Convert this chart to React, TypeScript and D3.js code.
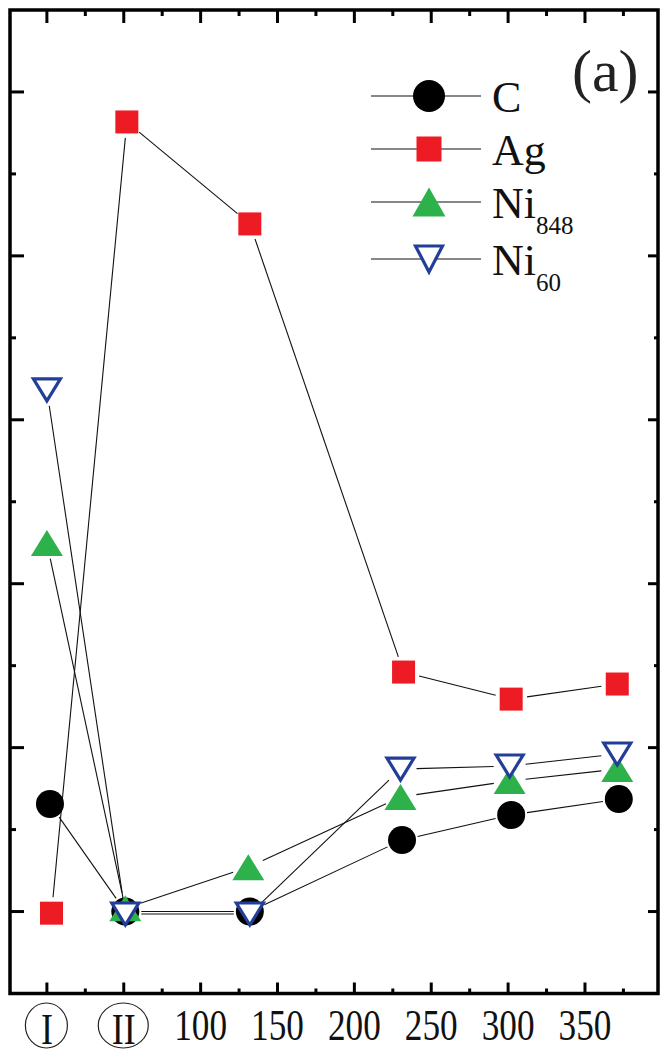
import React from "react";
import * as d3 from "d3";

// Axis ticks
const xTickValues = [0, 50, 100, 150, 200, 250, 300, 350];
const xTickLabels = ["I", "II", "100", "150", "200", "250", "300", "350"];
const xMinorValues = [25, 75, 125, 175, 225, 275, 325, 375];
const yTickValues = [0, 1, 2, 3, 4, 5];
const yMinorValues = [0.5, 1.5, 2.5, 3.5, 4.5];

// Series values
const cX = [2, 51, 132, 231, 302, 372];
const cY = [0.656, 0, 0, 0.436, 0.589, 0.686];
const agX = [3, 52, 132, 232, 302, 371];
const agY = [-0.01, 4.817, 4.195, 1.461, 1.296, 1.388];
const ni848X = [0, 51, 131, 230, 301, 371];
const ni848Y = [2.248, 0.02, 0.27, 0.699, 0.796, 0.869];
const ni60X = [0, 51, 132, 230, 301, 371];
const ni60Y = [3.182, -0.015, -0.015, 0.869, 0.888, 0.961];

const seriesNames = ["C", "Ag", "Ni", "Ni"];
const seriesSubs = ["", "", "848", "60"];
const seriesColors = ["#000000", "#ED1C24", "#2DB14B", "#233E99"];
const seriesMarkers = ["circle", "square", "triangle", "triangleDown"];

const W = 660;
const H = 1055;
const frame = { left: 10, right: 658, top: 10, bottom: 993.5 };

const x = d3.scaleLinear().domain([-24, 397.5]).range([frame.left, frame.right]);
const y = d3.scaleLinear().domain([-0.5, 5.5]).range([frame.bottom, frame.top]);

const series = [
  { xs: cX, ys: cY },
  { xs: agX, ys: agY },
  { xs: ni848X, ys: ni848Y },
  { xs: ni60X, ys: ni60Y },
].map((s, i) => ({
  name: seriesNames[i],
  sub: seriesSubs[i],
  color: seriesColors[i],
  marker: seriesMarkers[i],
  points: s.xs.map((v, j) => ({ px: x(v), py: y(s.ys[j]) })),
}));

const SERIF = "'Liberation Serif', 'Times New Roman', serif";

function Marker({ kind, cx, cy, color, big }: { kind: string; cx: number; cy: number; color: string; big?: boolean }) {
  if (kind === "circle") {
    return <circle cx={cx} cy={cy} r={big ? 16 : 14} fill={color} />;
  }
  if (kind === "square") {
    const s = big ? 25 : 23;
    return <rect x={cx - s / 2} y={cy - s / 2} width={s} height={s} fill={color} />;
  }
  if (kind === "triangle") {
    const w = big ? 33 : 32;
    const h = big ? 29 : 26;
    const pts = [
      [cx, cy - h / 2],
      [cx + w / 2, cy + h / 2],
      [cx - w / 2, cy + h / 2],
    ];
    return <polygon points={pts.map((p) => p.join(",")).join(" ")} fill={color} />;
  }
  const w = 27;
  const h = big ? 26 : 22;
  const pts = [
    [cx - w / 2, cy - h / 2],
    [cx + w / 2, cy - h / 2],
    [cx, cy + h / 2],
  ];
  return (
    <polygon
      points={pts.map((p) => p.join(",")).join(" ")}
      fill="#ffffff"
      stroke={color}
      strokeWidth={3.2}
      strokeLinejoin="miter"
    />
  );
}

// Connecting segments stop short of each marker
const GAP = 16;
function gappedSegments(points: { px: number; py: number }[]) {
  const segs: { x1: number; y1: number; x2: number; y2: number }[] = [];
  for (let i = 0; i < points.length - 1; i++) {
    const a = points[i];
    const b = points[i + 1];
    const dx = b.px - a.px;
    const dy = b.py - a.py;
    const len = Math.hypot(dx, dy);
    if (len <= 2 * GAP) continue;
    const ux = dx / len;
    const uy = dy / len;
    segs.push({
      x1: a.px + ux * GAP,
      y1: a.py + uy * GAP,
      x2: b.px - ux * GAP,
      y2: b.py - uy * GAP,
    });
  }
  return segs;
}

const legendRows = [96, 149, 202, 259];
const legendLineX = [371, 481];
const legendMarkerX = 429;
const legendTextX = 492;

export default function App() {
  const tickStroke = 3;
  return (
    <svg
      width={W}
      height={H}
      style={{ position: "absolute", left: 0, top: 0, background: "#fff" }}
      xmlns="http://www.w3.org/2000/svg"
    >
      <rect x={0} y={0} width={W} height={H} fill="#fff" />

      {/* connecting lines */}
      {series.map((s, i) => (
        <g key={"l" + i}>
          {gappedSegments(s.points).map((g, j) => (
            <line key={j} x1={g.x1} y1={g.y1} x2={g.x2} y2={g.y2} stroke="#111" strokeWidth={1.1} />
          ))}
        </g>
      ))}

      {/* markers */}
      {series.map((s, i) => (
        <g key={"m" + i}>
          {s.points.map((p, j) => (
            <Marker key={j} kind={s.marker} cx={p.px} cy={p.py} color={s.color} />
          ))}
        </g>
      ))}

      {/* ticks: bottom and top */}
      {xTickValues.map((v) => (
        <g key={"xt" + v}>
          <line x1={x(v)} x2={x(v)} y1={frame.bottom} y2={frame.bottom - 11} stroke="#000" strokeWidth={tickStroke} />
          <line x1={x(v)} x2={x(v)} y1={frame.top} y2={frame.top + 13} stroke="#000" strokeWidth={tickStroke} />
        </g>
      ))}
      {xMinorValues.map((v) => (
        <g key={"xm" + v}>
          <line x1={x(v)} x2={x(v)} y1={frame.bottom} y2={frame.bottom - 5} stroke="#000" strokeWidth={tickStroke} />
          <line x1={x(v)} x2={x(v)} y1={frame.top} y2={frame.top + 6} stroke="#000" strokeWidth={tickStroke} />
        </g>
      ))}
      {/* ticks: left and right */}
      {yTickValues.map((v) => (
        <g key={"yt" + v}>
          <line x1={frame.left} x2={frame.left + 14} y1={y(v)} y2={y(v)} stroke="#000" strokeWidth={tickStroke} />
          <line x1={frame.right} x2={frame.right - 10} y1={y(v)} y2={y(v)} stroke="#000" strokeWidth={tickStroke} />
        </g>
      ))}
      {yMinorValues.map((v) => (
        <g key={"ym" + v}>
          <line x1={frame.left} x2={frame.left + 6} y1={y(v)} y2={y(v)} stroke="#000" strokeWidth={tickStroke} />
          <line x1={frame.right} x2={frame.right - 4} y1={y(v)} y2={y(v)} stroke="#000" strokeWidth={tickStroke} />
        </g>
      ))}

      {/* frame */}
      <rect
        x={frame.left}
        y={frame.top}
        width={frame.right - frame.left}
        height={frame.bottom - frame.top}
        fill="none"
        stroke="#000"
        strokeWidth={3.5}
      />

      {/* x tick labels */}
      {xTickLabels.map((lab, i) => {
        const cx = x(xTickValues[i]);
        const roman = i < 2;
        return (
          <g key={"lab" + i}>
            {roman && (
              <ellipse cx={cx - 0.5} cy={1025.5} rx={i === 0 ? 21 : 25} ry={22.5} fill="none" stroke="#222" strokeWidth={1.2} />
            )}
            <g transform={`translate(${cx},${roman ? 1044 : 1040}) scale(0.8,1)`}>
              <text
                x={0}
                y={0}
                textAnchor="middle"
                fontFamily={SERIF}
                fontSize={roman ? 45 : 44}
                fill="#111"
              >
                {lab}
              </text>
            </g>
          </g>
        );
      })}

      {/* legend */}
      {series.map((s, i) => {
        const ly = legendRows[i];
        return (
          <g key={"lg" + i}>
            <line x1={legendLineX[0]} x2={legendLineX[1]} y1={ly} y2={ly} stroke="#111" strokeWidth={1.1} />
            <Marker kind={s.marker} cx={legendMarkerX} cy={ly} color={s.color} big />
            <text x={legendTextX} y={ly + 15.5} fontFamily={SERIF} fontSize={44} fill="#111">
              {s.name}
              {s.sub && (
                <tspan fontSize={25} dy={16}>
                  {s.sub}
                </tspan>
              )}
            </text>
          </g>
        );
      })}

      {/* panel label */}
      <text x={572} y={91} fontFamily={SERIF} fontSize={60} fill="#222">
        (a)
      </text>
    </svg>
  );
}
